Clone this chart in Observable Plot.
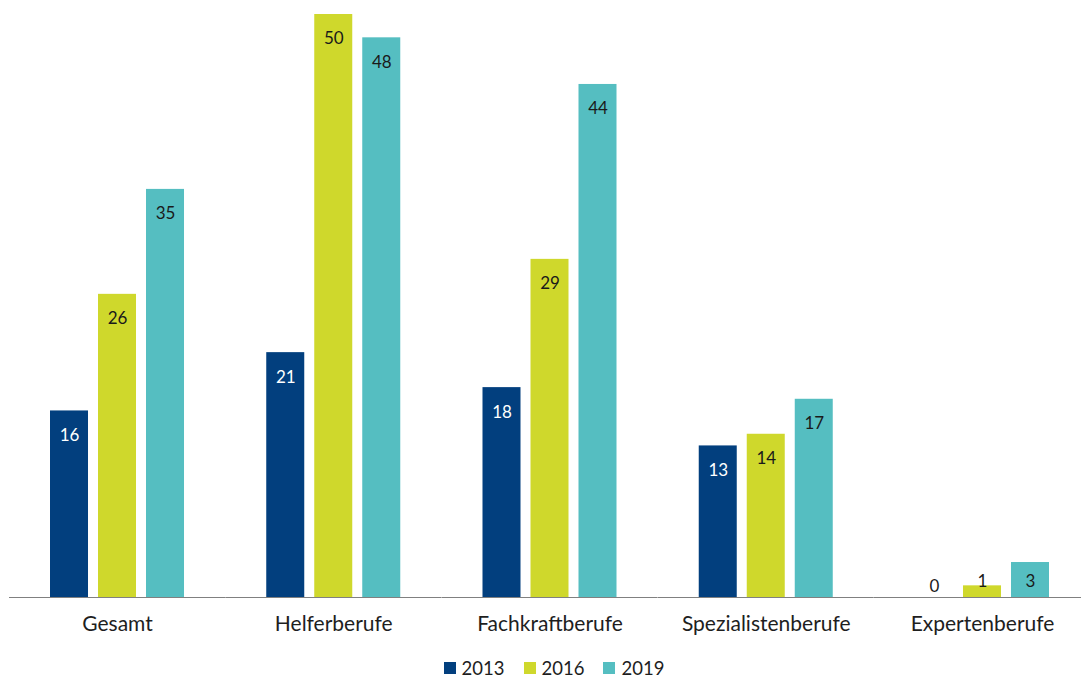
<!DOCTYPE html>
<html>
<head>
<meta charset="utf-8">
<script src="https://cdn.jsdelivr.net/npm/d3@7"></script>
<script src="https://cdn.jsdelivr.net/npm/@observablehq/plot@0.6"></script>
<style>
  html, body { margin: 0; padding: 0; background: #fff; overflow: hidden; }
  body { width: 1081px; height: 679px; font-family: Lato, "Open Sans", sans-serif; }
  #chart svg { display: block; overflow: visible; }
  .legend { display: flex; justify-content: center; align-items: center; height: 16px; line-height: 16px; margin-top: 18px; padding-left: 27px; font-size: 18.5px; color: #1e1e1e; }
  .legend .item { display: flex; align-items: center; margin-right: 19px; }
  .legend .item:last-child { margin-right: 0; }
  .legend .sw { width: 12px; height: 12px; margin-right: 6px; }
</style>
</head>
<body>
<div id="chart"></div>
<div class="legend" id="legend"></div>
<script>
const categories = ["Gesamt", "Helferberufe", "Fachkraftberufe", "Spezialistenberufe", "Expertenberufe"];
const years = ["2013", "2016", "2019"];
const values2013 = [16, 21, 18, 13, 0];
const values2016 = [26, 50, 29, 14, 1];
const values2019 = [35, 48, 44, 17, 3];
const colors = ["#023f7e", "#cfd82c", "#55bec1"];

const series = [values2013, values2016, values2019];
const data = [];
categories.forEach((c, i) => {
  years.forEach((y, j) => data.push({category: c, year: y, value: series[j][i]}));
});

// label position in data units: inside the bar end, kept above the baseline for short bars
const labelY = d => d.value === 0 ? 0.95 : Math.max(d.value - 2.1, 1.35);

const chart = Plot.plot({
  width: 1081,
  height: 642,
  marginTop: 14,
  marginBottom: 45,
  marginLeft: 9,
  marginRight: -9,
  style: {fontFamily: "Lato, 'Open Sans', sans-serif", fontSize: "21px", color: "#1e1e1e", overflow: "visible"},
  fx: {domain: categories, paddingInner: 0.3803, paddingOuter: 0.1896, round: false, label: null, axis: "bottom", tickSize: 0, tickPadding: 19},
  x: {domain: years, paddingInner: 0.2083, paddingOuter: 0, round: false, axis: null},
  y: {domain: [0, 50], axis: null},
  color: {domain: years, range: colors},
  marks: [
    Plot.barY(data, {fx: "category", x: "year", y: "value", fill: "year"}),
    Plot.ruleY([0], {stroke: "#808080", strokeWidth: 1.2, insetLeft: -41, insetRight: -41}),
    Plot.text(data, {
      fx: "category", x: "year", y: labelY, text: d => String(d.value),
      fill: d => (d.year === "2013" && d.value > 0) ? "#ffffff" : "#1a1a1a",
      fontSize: 17, lineAnchor: "middle"
    })
  ]
});
document.getElementById("chart").appendChild(chart);

const legend = document.getElementById("legend");
years.forEach((y, i) => {
  const item = document.createElement("div");
  item.className = "item";
  const sw = document.createElement("div");
  sw.className = "sw";
  sw.style.background = colors[i];
  const t = document.createElement("span");
  t.textContent = y;
  item.appendChild(sw);
  item.appendChild(t);
  legend.appendChild(item);
});
</script>
</body>
</html>
